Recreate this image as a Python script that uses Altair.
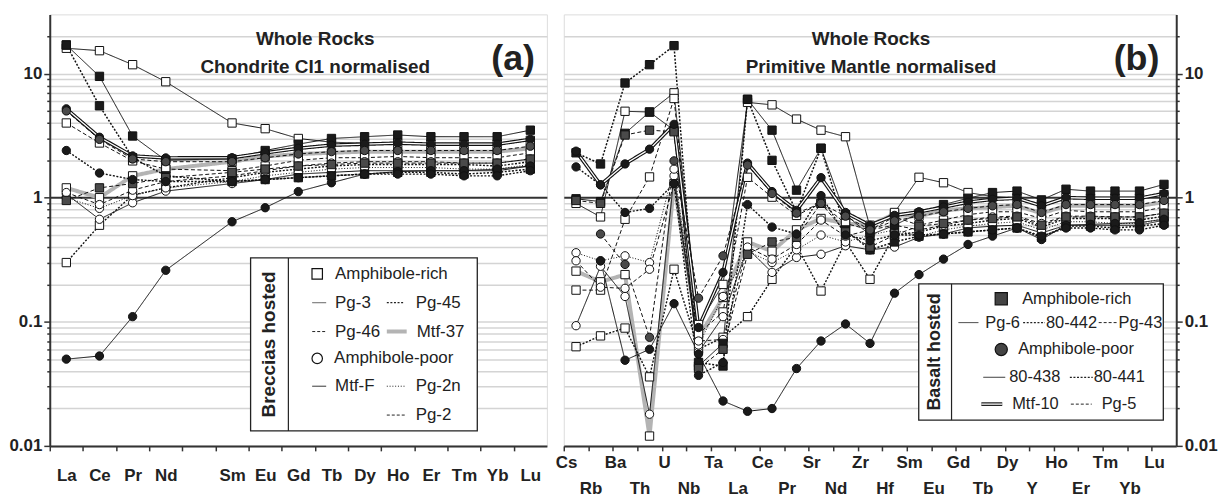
import altair as alt
import pandas as pd

FONT = "Liberation Sans"
INK = "#222222"

# ---------------- categories ----------------
REE_AXIS = ["La", "Ce", "Pr", "Nd", "Pm", "Sm", "Eu", "Gd", "Tb", "Dy", "Ho", "Er", "Tm", "Yb", "Lu"]
REE_DATA = ["La", "Ce", "Pr", "Nd", "Sm", "Eu", "Gd", "Tb", "Dy", "Ho", "Er", "Tm", "Yb", "Lu"]
SPIDER = ["Cs", "Rb", "Ba", "Th", "U", "Nb", "Ta", "La", "Ce", "Pr", "Sr", "Nd", "Zr", "Hf",
          "Sm", "Eu", "Gd", "Tb", "Dy", "Y", "Ho", "Er", "Tm", "Yb", "Lu"]
LOWER_ROW = ["Rb", "Th", "Nb", "La", "Pr", "Nd", "Hf", "Eu", "Tb", "Y", "Er", "Yb"]

SAMPLES = ["Mtf-37", "Pg-3", "Pg-45", "Pg-46", "Mtf-F", "Pg-2n", "Pg-2",
           "Pg-6", "80-442", "Pg-43", "80-438", "80-441", "Mtf-10", "Pg-5"]

# ---------------- (a) chondrite CI1 normalised (La..Lu, no Pm) ----------------
cho_pg3 = [16.0, 15.3, 11.8, 8.6, 4.0, 3.6, 3.0, 2.8, 2.75, 2.75, 2.7, 2.7, 2.7, 2.9]
cho_pg45 = [0.30, 0.60, 1.05, 1.2, 1.45, 1.6, 1.7, 1.8, 1.85, 1.85, 1.85, 1.85, 1.8, 1.95]
cho_pg46 = [4.0, 2.76, 1.98, 1.7, 1.65, 1.8, 2.0, 2.1, 2.1, 2.15, 2.1, 2.1, 2.1, 2.3]
cho_mtf37 = [1.2, 1.0, 1.5, 1.7, 1.95, 2.15, 2.25, 2.3, 2.35, 2.35, 2.35, 2.35, 2.35, 2.5]
cho_mtff = [1.07, 0.67, 0.91, 1.13, 1.3, 1.4, 1.55, 1.6, 1.65, 1.65, 1.65, 1.65, 1.65, 1.8]
cho_pg2n = [1.0, 0.82, 1.04, 1.2, 1.35, 1.5, 1.6, 1.7, 1.75, 1.75, 1.75, 1.7, 1.7, 1.85]
cho_pg2 = [1.1, 0.88, 1.15, 1.35, 1.5, 1.65, 1.8, 1.9, 1.95, 1.95, 1.95, 1.9, 1.9, 2.05]
cho_pg6 = [17.0, 9.5, 3.14, 2.0, 2.05, 2.4, 2.7, 3.0, 3.1, 3.2, 3.1, 3.1, 3.1, 3.5]
cho_80442 = [17.0, 5.5, 2.1, 1.5, 1.35, 1.4, 1.45, 1.5, 1.55, 1.6, 1.6, 1.55, 1.6, 1.7]
cho_pg43 = [0.95, 1.2, 1.3, 1.45, 1.6, 1.7, 1.8, 1.85, 1.9, 1.9, 1.9, 1.9, 1.9, 2.05]
cho_80438 = [0.05, 0.053, 0.11, 0.26, 0.64, 0.83, 1.12, 1.32, 1.55, 1.62, 1.65, 1.65, 1.7, 1.8]
cho_80441 = [2.4, 1.58, 1.4, 1.35, 1.35, 1.4, 1.45, 1.5, 1.55, 1.55, 1.55, 1.5, 1.5, 1.65]
cho_mtf10 = [5.2, 3.07, 2.17, 2.09, 2.1, 2.3, 2.5, 2.65, 2.7, 2.75, 2.7, 2.7, 2.7, 2.95]
cho_pg5 = [5.0, 2.95, 2.05, 1.95, 1.95, 2.1, 2.25, 2.35, 2.4, 2.4, 2.4, 2.4, 2.4, 2.6]

# ---------------- (b) primitive mantle normalised ----------------
pm_pg3 = [0.9, 0.7, 4.97, 4.9, 7.0, 0.095, 0.2, 5.86, 5.6, 4.3, 3.5, 3.1, 0.58, 0.76,
          1.46, 1.32, 1.1, 1.02, 1.0, 0.88, 1.0, 0.99, 0.99, 0.99, 1.06]
pm_pg45 = [0.063, 0.077, 0.089, 0.036, 0.265, 0.06, 0.075, 0.11, 0.22, 0.41, 0.177, 0.44, 0.22, 0.5,
           0.53, 0.59, 0.62, 0.66, 0.68, 0.58, 0.68, 0.68, 0.68, 0.66, 0.71]
pm_pg46 = [0.18, 0.18, 0.67, 1.47, 6.3, 0.08, 0.12, 1.46, 1.01, 0.72, 0.9, 0.62, 0.55, 0.7,
           0.6, 0.66, 0.73, 0.77, 0.77, 0.68, 0.79, 0.77, 0.77, 0.77, 0.84]
pm_mtf37 = [0.256, 0.21, 0.24, 0.012, 1.3, 0.075, 0.157, 0.44, 0.37, 0.55, 0.68, 0.62, 0.6, 0.74,
            0.71, 0.79, 0.82, 0.84, 0.86, 0.75, 0.86, 0.86, 0.86, 0.86, 0.92]
pm_mtff = [0.093, 0.28, 0.16, 0.018, 1.5, 0.057, 0.11, 0.39, 0.25, 0.33, 0.35, 0.41, 0.38, 0.4,
           0.48, 0.51, 0.57, 0.59, 0.6, 0.52, 0.6, 0.6, 0.6, 0.6, 0.66]
pm_pg2n = [0.36, 0.31, 0.34, 0.30, 1.7, 0.065, 0.16, 0.37, 0.3, 0.38, 0.5, 0.44, 0.5, 0.55,
           0.49, 0.55, 0.59, 0.62, 0.64, 0.55, 0.64, 0.64, 0.62, 0.62, 0.68]
pm_pg2 = [0.31, 0.19, 0.186, 0.265, 1.3, 0.07, 0.072, 0.4, 0.32, 0.42, 0.66, 0.49, 0.55, 0.6,
          0.55, 0.6, 0.66, 0.7, 0.71, 0.62, 0.71, 0.71, 0.7, 0.7, 0.75]
pm_pg6 = [0.98, 0.93, 3.3, 4.9, 3.5, 0.044, 0.067, 6.2, 3.5, 1.15, 2.5, 0.73, 0.5, 0.6,
          0.75, 0.88, 0.99, 1.1, 1.13, 0.96, 1.17, 1.13, 1.13, 1.13, 1.28]
pm_80442 = [2.3, 1.87, 8.4, 11.8, 16.8, 0.047, 0.044, 6.2, 2.0, 0.77, 2.5, 0.55, 0.38, 0.44,
            0.49, 0.51, 0.53, 0.55, 0.57, 0.48, 0.59, 0.59, 0.57, 0.59, 0.62]
pm_pg43 = [0.95, 0.9, 3.2, 3.5, 3.4, 0.042, 0.06, 0.35, 0.44, 0.48, 0.9, 0.53, 0.4, 0.5,
           0.59, 0.62, 0.66, 0.68, 0.7, 0.6, 0.7, 0.7, 0.7, 0.7, 0.75]
pm_80438 = [None, 0.31, 0.049, 0.06, 0.14, 0.055, 0.023, 0.019, 0.02, 0.042, 0.07, 0.096, 0.067, 0.17,
            0.24, 0.32, 0.42, 0.49, 0.57, 0.46, 0.6, 0.61, 0.62, 0.63, 0.67]
pm_80441 = [1.77, 1.27, 0.76, 0.82, 1.3, 0.037, 0.047, 0.88, 0.58, 0.51, 1.04, 0.5, 0.45, 0.5,
            0.5, 0.51, 0.53, 0.55, 0.57, 0.49, 0.57, 0.57, 0.55, 0.55, 0.6]
pm_mtf10 = [2.37, 1.27, 1.87, 2.46, 3.9, 0.09, 0.25, 1.9, 1.12, 0.79, 1.45, 0.76, 0.6, 0.72,
            0.77, 0.84, 0.92, 0.97, 0.99, 0.86, 1.0, 0.99, 0.99, 0.99, 1.08]
pm_pg5 = [None, 0.51, 0.29, 0.075, 1.98, 0.155, 0.34, 1.83, 1.08, 0.75, 0.9, 0.71, 0.55, 0.65,
          0.71, 0.77, 0.82, 0.86, 0.88, 0.76, 0.88, 0.88, 0.88, 0.88, 0.95]

CHO = {"Pg-3": cho_pg3, "Pg-45": cho_pg45, "Pg-46": cho_pg46, "Mtf-37": cho_mtf37,
       "Mtf-F": cho_mtff, "Pg-2n": cho_pg2n, "Pg-2": cho_pg2, "Pg-6": cho_pg6,
       "80-442": cho_80442, "Pg-43": cho_pg43, "80-438": cho_80438, "80-441": cho_80441,
       "Mtf-10": cho_mtf10, "Pg-5": cho_pg5}
PM = {"Pg-3": pm_pg3, "Pg-45": pm_pg45, "Pg-46": pm_pg46, "Mtf-37": pm_mtf37,
      "Mtf-F": pm_mtff, "Pg-2n": pm_pg2n, "Pg-2": pm_pg2, "Pg-6": pm_pg6,
      "80-442": pm_80442, "Pg-43": pm_pg43, "80-438": pm_80438, "80-441": pm_80441,
      "Mtf-10": pm_mtf10, "Pg-5": pm_pg5}

# ---------------- styles ----------------
SOLID = [1, 0]
DOT = [2, 1.6]
FINE = [1, 1.8]
DASH = [4, 2.5]
STYLE = {
    "Mtf-37": dict(color="#b4b4b4", width=4.0, dash=SOLID, shape="square", fill="white"),
    "Pg-3": dict(color="#111", width=1.0, dash=SOLID, shape="square", fill="white"),
    "Pg-45": dict(color="#111", width=1.4, dash=DOT, shape="square", fill="white"),
    "Pg-46": dict(color="#111", width=1.0, dash=DASH, shape="square", fill="white"),
    "Mtf-F": dict(color="#111", width=1.0, dash=SOLID, shape="circle", fill="white"),
    "Pg-2n": dict(color="#111", width=1.0, dash=FINE, shape="circle", fill="white"),
    "Pg-2": dict(color="#111", width=1.0, dash=DASH, shape="circle", fill="white"),
    "Pg-6": dict(color="#111", width=1.0, dash=SOLID, shape="square", fill="#1a1a1a"),
    "80-442": dict(color="#111", width=1.5, dash=DOT, shape="square", fill="#1a1a1a"),
    "Pg-43": dict(color="#111", width=1.0, dash=DASH, shape="square", fill="#4a4a4a"),
    "80-438": dict(color="#111", width=1.0, dash=SOLID, shape="circle", fill="#1a1a1a"),
    "80-441": dict(color="#111", width=1.4, dash=DOT, shape="circle", fill="#1a1a1a"),
    "Mtf-10": dict(color="#111", width=3.6, dash=SOLID, shape="circle", fill="#1a1a1a"),
    "Pg-5": dict(color="#111", width=1.0, dash=DASH, shape="circle", fill="#4a4a4a"),
}


def build(table, elements):
    rows = []
    for s in SAMPLES:
        for i, (e, v) in enumerate(zip(elements, table[s])):
            if v is not None:
                rows.append({"sample": s, "element": e, "value": v, "idx": i})
    return pd.DataFrame(rows)


df_a = build(CHO, REE_DATA)
df_b = build(PM, SPIDER)
dummy = pd.DataFrame({"d": [0]})

# ---------------- axes ----------------
YVALS = []
for e in [0.01, 0.1, 1, 10]:
    for k in range(1, 10):
        YVALS.append(round(k * e, 4))
YVALS = [v for v in YVALS if v <= 20]
DECADE = "datum.value == 0.01 || datum.value == 0.1 || datum.value == 1 || datum.value == 10"
YLABEL = ("datum.value == 0.01 ? '0.01' : datum.value == 0.1 ? '0.1' : "
          "datum.value == 1 ? '1' : datum.value == 10 ? '10' : ''")


def y_axis(orient):
    return alt.Axis(
        orient=orient, values=YVALS, title=None, labelExpr=YLABEL,
        labelFont=FONT, labelFontSize=17, labelFontWeight="bold", labelColor=INK,
        labelPadding=2, labelOverlap=False, labelFlush=False,
        tickSize={"condition": {"test": DECADE, "value": 6}, "value": 3},
        tickColor="#333", tickWidth=1.5,
        domainColor="#333", domainWidth=2,
        grid=True,
        gridColor={"condition": {"test": "datum.value == 1", "value": "#333333"}, "value": "#d4d4d4"},
        gridWidth={"condition": {"test": "datum.value == 1", "value": 2}, "value": 1.5},
    )


Y_SCALE = alt.Scale(type="log", domain=[0.01, 30], nice=False)

XA = alt.X("element:N", scale=alt.Scale(type="point", domain=REE_AXIS, padding=0.5),
           axis=alt.Axis(title=None, labelExpr="datum.value == 'Pm' ? '' : datum.label",
                         labelFont=FONT, labelFontSize=17, labelFontWeight="bold", labelColor=INK,
                         labelAngle=0, labelPadding=17, labelOffset=16.67,
                         tickSize=5, tickOffset=-16.67,
                         tickColor="#333", tickWidth=1.5, domainColor="#333", domainWidth=2,
                         grid=False, labelOverlap=False))
LOWER = "[" + ",".join("'%s'" % e for e in LOWER_ROW) + "]"
XB = alt.X("element:N", scale=alt.Scale(type="point", domain=SPIDER, padding=0.5),
           axis=alt.Axis(title=None,
                         labelExpr="indexof(" + LOWER + ", datum.value) >= 0 ? ['', datum.label] : datum.label",
                         labelFont=FONT, labelFontSize=17, labelFontWeight="bold", labelColor=INK,
                         labelAngle=0, labelPadding=4, labelLineHeight=26, labelOffset=2.3,
                         tickSize=5, tickOffset=-12.32, tickColor="#333", tickWidth=1.5,
                         domainColor="#333", domainWidth=2, grid=False, labelOverlap=False))
YA = alt.Y("value:Q", scale=Y_SCALE, axis=y_axis("left"))
YB = alt.Y("value:Q", scale=Y_SCALE, axis=y_axis("right"))


def series_layers(df, x, y):
    base = alt.Chart(df)
    lines, pts = [], []
    for s in SAMPLES:
        st = STYLE[s]
        f = base.transform_filter(alt.datum.sample == s)
        lines.append(f.mark_line(color=st["color"], strokeWidth=st["width"], strokeDash=st["dash"])
                     .encode(x=x, y=y, order="idx:Q"))
        if s == "Mtf-10":
            lines.append(f.mark_line(color="white", strokeWidth=1.3)
                         .encode(x=x, y=y, order="idx:Q"))
    for s in SAMPLES:
        st = STYLE[s]
        f = base.transform_filter(alt.datum.sample == s)
        pts.append(f.mark_point(shape=st["shape"], filled=True, fill=st["fill"], stroke="#111",
                                strokeWidth=1, size=70, opacity=1)
                   .encode(x=x, y=y))
    return lines + pts


def txt(t, x, y, size=17, weight="normal", align="left", angle=0):
    return alt.Chart(dummy).mark_text(text=t, font=FONT, fontSize=size, fontWeight=weight,
                                      align=align, baseline="middle", angle=angle, color=INK
                                      ).encode(x=alt.value(x), y=alt.value(y))


def hrule(x1, x2, y, color="#222", width=1.0, dash=SOLID):
    return alt.Chart(dummy).mark_rule(color=color, strokeWidth=width, strokeDash=dash
                                      ).encode(x=alt.value(x1), x2=alt.value(x2), y=alt.value(y))


def vrule(x, y1, y2):
    return alt.Chart(dummy).mark_rule(color="#222", strokeWidth=1.2
                                      ).encode(x=alt.value(x), y=alt.value(y1), y2=alt.value(y2))


def box(x1, x2, y1, y2):
    return alt.Chart(dummy).mark_rect(fill="white", stroke="#222", strokeWidth=1.3
                                      ).encode(x=alt.value(x1), x2=alt.value(x2),
                                               y=alt.value(y1), y2=alt.value(y2))


def sym(shape, fill, x, y, size):
    return alt.Chart(dummy).mark_point(shape=shape, filled=True, fill=fill, stroke="#111",
                                       strokeWidth=1.2, size=size, opacity=1
                                       ).encode(x=alt.value(x), y=alt.value(y))


# ---------------- panel (a) ----------------
deco_a = [
    txt("Whole Rocks", 267, 25, size=19, weight="bold", align="center"),
    txt("Chondrite CI1 normalised", 267, 53, size=19, weight="bold", align="center"),
    txt("(a)", 466, 45, size=36, weight="bold", align="center"),
    box(202, 430, 245, 419),
    vrule(240, 245, 419),
    txt("Breccias hosted", 221, 332, size=19, weight="bold", align="center", angle=270),
    sym("square", "white", 269, 261, 110), txt("Amphibole-rich", 287, 261),
    hrule(264, 278, 290, color="#555"), txt("Pg-3", 287, 290),
    hrule(339, 357, 290, width=1.3, dash=DOT), txt("Pg-45", 368, 290),
    hrule(264, 278, 319, dash=[3, 2]), txt("Pg-46", 287, 319),
    hrule(339, 359, 319, color="#b4b4b4", width=4), txt("Mtf-37", 369, 319),
    sym("circle", "white", 269, 346, 110), txt("Amphibole-poor", 286, 346),
    hrule(264, 278, 374), txt("Mtf-F", 287, 374),
    hrule(339, 357, 374, dash=FINE), txt("Pg-2n", 368, 374),
    hrule(339, 357, 403, dash=[3, 2]), txt("Pg-2", 368, 403),
]
panel_a = alt.layer(*series_layers(df_a, XA, YA), *deco_a).properties(width=500, height=434)

# ---------------- panel (b) ----------------
deco_b = [
    txt("Whole Rocks", 309, 25, size=19, weight="bold", align="center"),
    txt("Primitive Mantle normalised", 309, 53, size=19, weight="bold", align="center"),
    txt("(b)", 576, 45, size=36, weight="bold", align="center"),
    box(357, 603, 271, 408),
    vrule(390, 271, 408),
    txt("Basalt hosted", 373.5, 339.5, size=18, weight="bold", align="center", angle=270),
    sym("square", "#444", 440, 286, 150), txt("Amphibole-rich", 461, 286, size=16.5),
    hrule(397, 417, 310), txt("Pg-6", 424, 310, size=16.5),
    hrule(462, 484, 310, width=1.3, dash=DOT), txt("80-442", 485, 310, size=16.5),
    hrule(538, 557, 310, dash=[3, 2]), txt("Pg-43", 558, 310, size=16.5),
    sym("circle", "#444", 440, 337, 150), txt("Amphibole-poor", 457, 337, size=16.5),
    hrule(422, 444, 365), txt("80-438", 448, 365, size=16.5),
    hrule(509, 532, 365, width=1.3, dash=DOT), txt("80-441", 533, 365, size=16.5),
    hrule(420, 441, 392, width=3.6), hrule(420, 441, 392, color="white", width=1.3),
    txt("Mtf-10", 451, 392, size=16.5),
    hrule(510, 531, 392, dash=[3, 2]), txt("Pg-5", 541, 392, size=16.5),
]
panel_b = alt.layer(*series_layers(df_b, XB, YB), *deco_b).properties(width=616, height=434)

chart = alt.hconcat(panel_a, panel_b, spacing=17, bounds="flush").properties(
    padding={"left": 0, "top": 4, "right": 0, "bottom": 0}
).configure_view(stroke="#333", strokeWidth=1.5).configure(background="white")

chart.save("out.html", embed_options={"renderer": "svg", "actions": False})
